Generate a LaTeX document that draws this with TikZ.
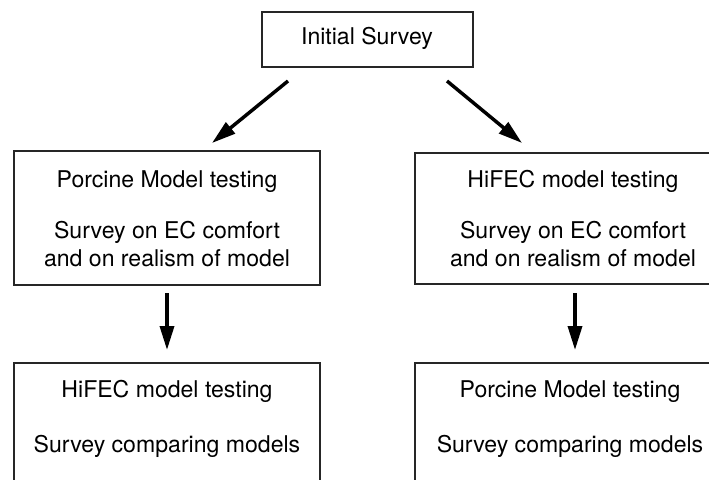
\documentclass[tikz,border=0pt]{standalone}
\usepackage{fontspec}
\setmainfont{TeX Gyre Heros}
\usetikzlibrary{arrows.meta}
\tikzset{
  boxnode/.style={draw=black!85, line width=1.1pt, inner sep=0pt, fill=white},
  txt/.style={anchor=base, inner sep=0pt, font=\fontsize{17.3}{20}\selectfont},
  flow/.style={line width=2.6pt, -{Triangle[length=18pt,width=10.5pt]}}
}
\begin{document}
\begin{tikzpicture}[x=0.75pt,y=-0.75pt]
\useasboundingbox (0,0) rectangle (709,479);
\clip (0,0) rectangle (709,479);
% boxes
\node[boxnode, minimum width=158.25pt, minimum height=41.25pt] (top) at (367.5,39.5) {};
\node[boxnode, minimum width=229.5pt, minimum height=100.5pt] (ml) at (167,218) {};
\node[boxnode, minimum width=230pt, minimum height=98.25pt] (mr) at (568.5,218.5) {};
\node[boxnode, minimum width=229.5pt, minimum height=112.5pt] (bl) at (167,438) {};
\node[boxnode, minimum width=230pt, minimum height=112.5pt] (br) at (568.5,438) {};
% texts
\node[txt] (t0) at (367,44) {Initial Survey};
\node[txt] (t1) at (167,187) {Porcine Model testing};
\node[txt] (t2) at (167,238) {Survey on EC comfort};
\node[txt] (t3) at (167,266) {and on realism of model};
\node[txt] (t4) at (573,187) {HiFEC model testing};
\node[txt] (t5) at (573,238) {Survey on EC comfort};
\node[txt] (t6) at (573,266) {and on realism of model};
\node[txt] (t7) at (167,397) {HiFEC model testing};
\node[txt] (t8) at (167,452) {Survey comparing models};
\node[txt] (t9) at (570,397) {Porcine Model testing};
\node[txt] (t10) at (570,452) {Survey comparing models};
% arrow ends
\coordinate (a1s) at (288,81);
\coordinate (a1e) at (212,143);
\coordinate (a2s) at (447,81);
\coordinate (a2e) at (522,143);
\coordinate (a3s) at (167,293);
\coordinate (a3e) at (167,350);
\coordinate (a4s) at (575,293);
\coordinate (a4e) at (575,350);
\draw[flow] (a1s) -- (a1e);
\draw[flow] (a2s) -- (a2e);
\draw[flow] (a3s) -- (a3e);
\draw[flow] (a4s) -- (a4e);
\end{tikzpicture}
\end{document}
